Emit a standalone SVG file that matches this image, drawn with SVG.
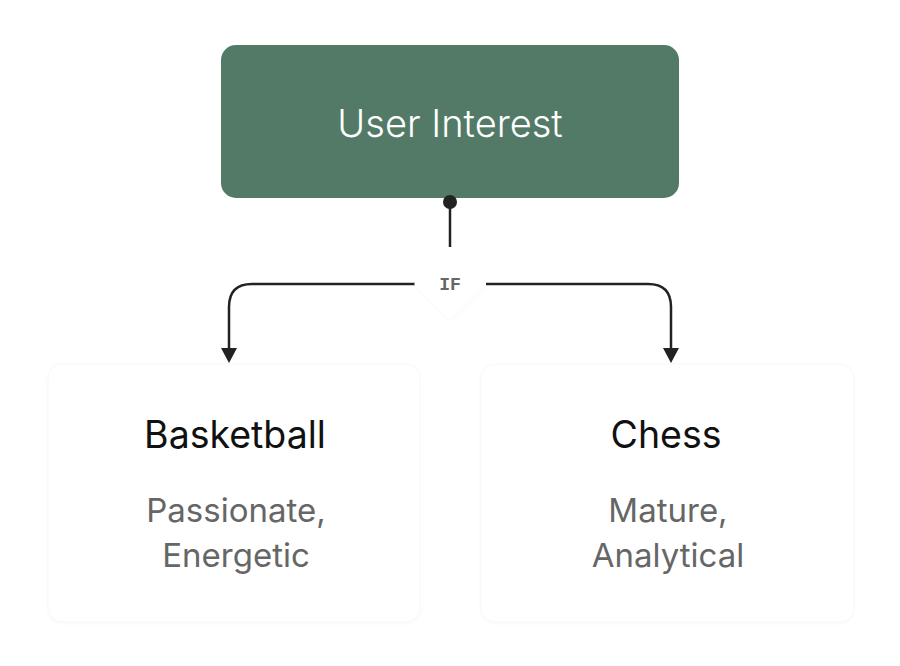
<svg xmlns="http://www.w3.org/2000/svg" width="900" height="666" viewBox="0 0 900 666">
<defs>
<style>
.title{font-family:Inter,"Noto Sans",sans-serif;font-size:37.5px;fill:#111;text-anchor:middle}
.sub{font-family:Inter,"Noto Sans",sans-serif;font-size:33px;fill:#666;text-anchor:middle}
.card{fill:#fff;stroke:#f7f7f7;stroke-width:1}
.conn{fill:none;stroke:#222;stroke-width:2.5}
</style>
<filter id="sh" x="-10%" y="-10%" width="120%" height="130%">
<feDropShadow dx="0" dy="1" stdDeviation="1.5" flood-color="#000" flood-opacity="0.03"/>
</filter>
</defs>
<rect width="900" height="666" fill="#fff"/>
<g id="node-user-interest">
<rect x="221" y="45" width="458" height="153" rx="15" fill="#527a67"/>
<text x="450" y="137" font-family="Inter,'Noto Sans',sans-serif" font-size="38" font-weight="300" fill="#fff" text-anchor="middle">User Interest</text>
</g>
<g id="connectors">
<circle cx="450" cy="202" r="7" fill="#222"/>
<line x1="450" y1="202" x2="450" y2="247" class="conn"/>
<path d="M415 284 H252 Q229 284 229 307 V349" class="conn"/>
<path d="M486 284 H648 Q671 284 671 307 V349" class="conn"/>
<path d="M221 348 L237 348 L229 363 Z" fill="#222"/>
<path d="M663 348 L679 348 L671 363 Z" fill="#222"/>
</g>
<g id="node-if">
<path d="M450 248 L486 284 L450 320 L414 284 Z" fill="#fff" filter="url(#sh)"/>
<text x="450" y="290" font-family="'Liberation Mono','DejaVu Sans Mono',monospace" font-size="18" font-weight="bold" fill="#666" text-anchor="middle">IF</text>
</g>
<g id="node-basketball">
<rect x="48" y="364" width="372" height="258" rx="14" class="card" filter="url(#sh)"/>
<text x="235" y="448" class="title">Basketball</text>
<text x="236" y="522" class="sub">Passionate,</text>
<text x="236" y="567" class="sub">Energetic</text>
</g>
<g id="node-chess">
<rect x="481" y="364" width="373" height="258" rx="14" class="card" filter="url(#sh)"/>
<text x="666" y="448" class="title">Chess</text>
<text x="668" y="522" class="sub">Mature,</text>
<text x="668" y="567" class="sub">Analytical</text>
</g>
</svg>
